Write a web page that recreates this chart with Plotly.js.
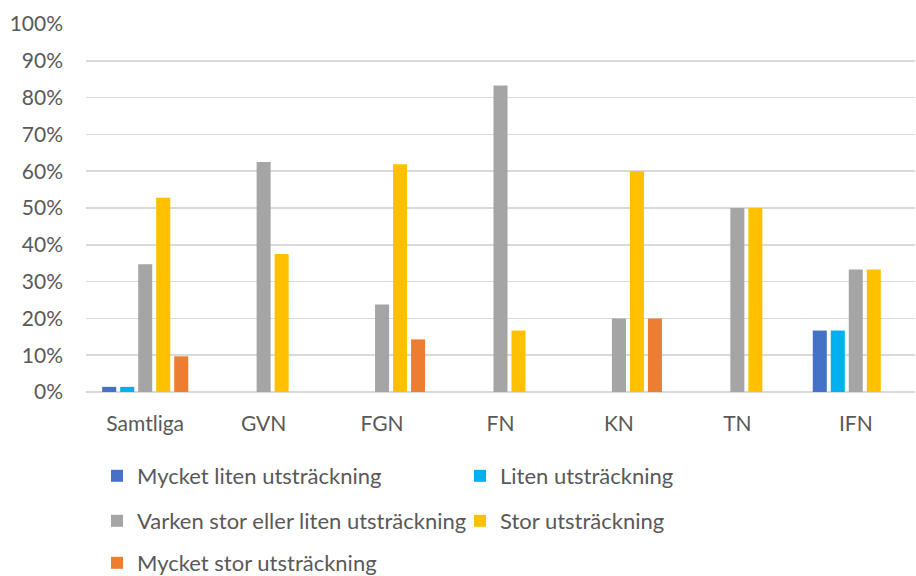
<!DOCTYPE html>
<html><head><meta charset="utf-8">
<script src="https://cdn.plot.ly/plotly-3.0.1.min.js"></script>
<style>html,body{margin:0;padding:0;background:#fff;}#chart{width:916px;height:576px;}</style>
</head><body><div id="chart"></div>
<script>
const categories = ["Samtliga", "GVN", "FGN", "FN", "KN", "TN", "IFN"];
const seriesNames = ["Mycket liten utsträckning", "Liten utsträckning", "Varken stor eller liten utsträckning", "Stor utsträckning", "Mycket stor utsträckning"];
const mycketLiten = [1.4, 0, 0, 0, 0, 0, 16.7];
const liten = [1.4, 0, 0, 0, 0, 0, 16.7];
const varken = [34.7, 62.5, 23.8, 83.3, 20, 50, 33.3];
const stor = [52.8, 37.5, 61.9, 16.7, 60, 50, 33.3];
const mycketStor = [9.7, 0, 14.3, 0, 20, 0, 0];
const yTickVals = [0,10,20,30,40,50,60,70,80,90,100];
const yTickText = ["0%","10%","20%","30%","40%","50%","60%","70%","80%","90%","100%"];

const colors = ["#4472C4", "#00B0F0", "#A5A5A5", "#FFC000", "#ED7D31"];
const values = [mycketLiten, liten, varken, stor, mycketStor];
const legendIds = ["legend", "legend", "legend2", "legend2", "legend3"];
const font = {family: "Lato, 'Open Sans', sans-serif", size: 21, color: "#595959"};
const legendFont = {family: "Lato, 'Open Sans', sans-serif", size: 22, color: "#595959"};

const traces = values.map((v, i) => ({
  type: "bar", x: categories, y: v, name: seriesNames[i],
  marker: {color: colors[i]}, legend: legendIds[i], hoverinfo: "skip"
}));

function leg(y) {
  return {orientation: "h", x: 97 / 916, xref: "container", xanchor: "left",
    y: y, yref: "container", yanchor: "middle",
    entrywidth: 318, entrywidthmode: "pixels", font: legendFont, bgcolor: "rgba(0,0,0,0)",
    traceorder: "normal", itemclick: false};
}

const layout = {
  width: 916, height: 576,
  margin: {l: 86, r: 1, t: 24, b: 184, autoexpand: false},
  paper_bgcolor: "#fff", plot_bgcolor: "#fff",
  font: font,
  barmode: "group", bargap: 0.24, bargroupgap: 0.22,
  showlegend: true,
  legend: leg((576 - 476) / 576), legend2: leg((576 - 521) / 576), legend3: leg((576 - 563) / 576),
  xaxis: {type: "category", showgrid: false, zeroline: false, showline: false,
    ticks: "", tickfont: font, ticklabelstandoff: 17, fixedrange: true, automargin: false},
  yaxis: {range: [0, 100], tickvals: yTickVals, ticktext: yTickText,
    showgrid: true, gridcolor: "#D9D9D9", gridwidth: 1.5, zeroline: true,
    zerolinecolor: "#D9D9D9", zerolinewidth: 1.5, ticks: "", tickfont: font,
    ticklabelstandoff: 22, fixedrange: true, automargin: false}
};

Plotly.newPlot("chart", traces, layout, {displayModeBar: false, staticPlot: true});
</script></body></html>
